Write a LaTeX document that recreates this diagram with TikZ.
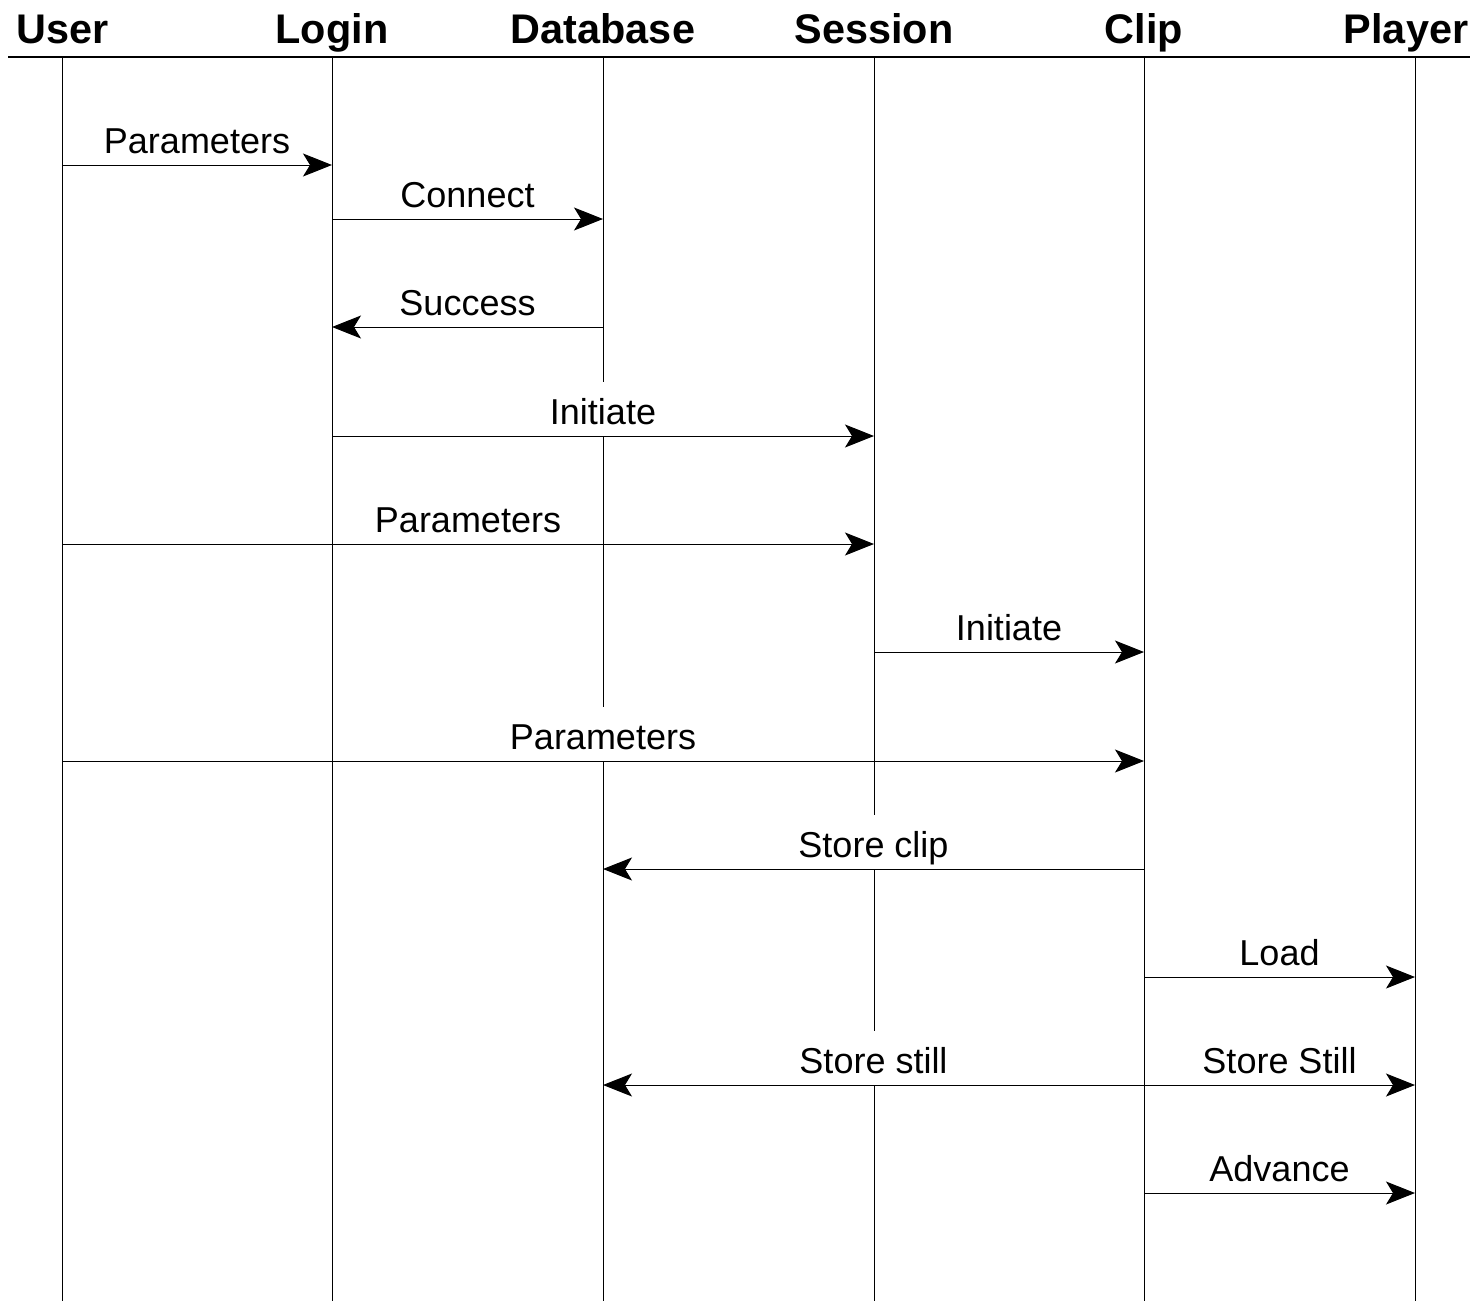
\documentclass[tikz,border=0pt]{standalone}
\usepackage{fontspec}
\setmainfont{Liberation Sans}
\usetikzlibrary{arrows.meta}
\begin{document}
\begin{tikzpicture}[x=0.5pt,y=-0.5pt,
 head/.style={font=\fontsize{20.7}{24}\selectfont\bfseries, anchor=base, inner sep=0pt},
 lbl/.style={font=\fontsize{18}{21}\selectfont, anchor=base, fill=white, inner xsep=2pt, inner ysep=0pt, text height=21pt, text depth=6pt},
 life/.style={line width=0.5pt},
 rule/.style={line width=0.8pt},
 msg/.style={line width=0.5pt, -{Stealth[length=14.5pt,width=11.5pt,inset=3.5pt]}}]
\fill[white] (0,0) rectangle (1478,1301);
\useasboundingbox (0,0) rectangle (1478,1301);
% headers
\node[head] (hUser) at (63,43) {User};
\node[head] (hLogin) at (332,43) {Login};
\node[head] (hDb) at (603,43) {Database};
\node[head] (hSession) at (874,43) {Session};
\node[head] (hClip) at (1144,43) {Clip};
\node[head] (hPlayer) at (1406,43) {Player};
\coordinate (rL) at (8,57);
\coordinate (rR) at (1470,57);
\draw[rule] (rL) -- (rR);
% lifelines
\coordinate (tUser) at (62,57);
\coordinate (tLogin) at (332,57);
\coordinate (tDb) at (603,57);
\coordinate (tSession) at (874,57);
\coordinate (tClip) at (1144,57);
\coordinate (tPlayer) at (1415,57);
\foreach \n in {User,Login,Db,Session,Clip,Player}{
  \coordinate (b\n) at (t\n |- 0,1301);
  \draw[life] (t\n) -- (b\n);
}
% labels
\node[lbl] (l1) at (197,153) {Parameters};
\node[lbl] (l2) at (467.5,207) {Connect};
\node[lbl] (l3) at (467.5,315) {Success};
\node[lbl] (l4) at (603,424) {Initiate};
\node[lbl] (l5) at (468,532) {Parameters};
\node[lbl] (l6) at (1009,640) {Initiate};
\node[lbl] (l7) at (603,749) {Parameters};
\node[lbl] (l8) at (873.5,857) {Store clip};
\node[lbl] (l9) at (1279.5,965) {Load};
\node[lbl] (l10) at (873.5,1073) {Store still};
\node[lbl] (l11) at (1279.5,1073) {Store Still};
\node[lbl] (l12) at (1279.5,1181) {Advance};
% messages
\draw[msg] (tUser |- 0,165) -- (tLogin |- 0,165);
\draw[msg] (tLogin |- 0,219) -- (tDb |- 0,219);
\draw[msg] (tDb |- 0,327) -- (tLogin |- 0,327);
\draw[msg] (tLogin |- 0,436) -- (tSession |- 0,436);
\draw[msg] (tUser |- 0,544) -- (tSession |- 0,544);
\draw[msg] (tSession |- 0,652) -- (tClip |- 0,652);
\draw[msg] (tUser |- 0,761) -- (tClip |- 0,761);
\draw[msg] (tClip |- 0,869) -- (tDb |- 0,869);
\draw[msg] (tClip |- 0,977) -- (tPlayer |- 0,977);
\draw[msg] (tClip |- 0,1085) -- (tDb |- 0,1085);
\draw[msg] (tClip |- 0,1085) -- (tPlayer |- 0,1085);
\draw[msg] (tClip |- 0,1193) -- (tPlayer |- 0,1193);
\end{tikzpicture}
\end{document}
